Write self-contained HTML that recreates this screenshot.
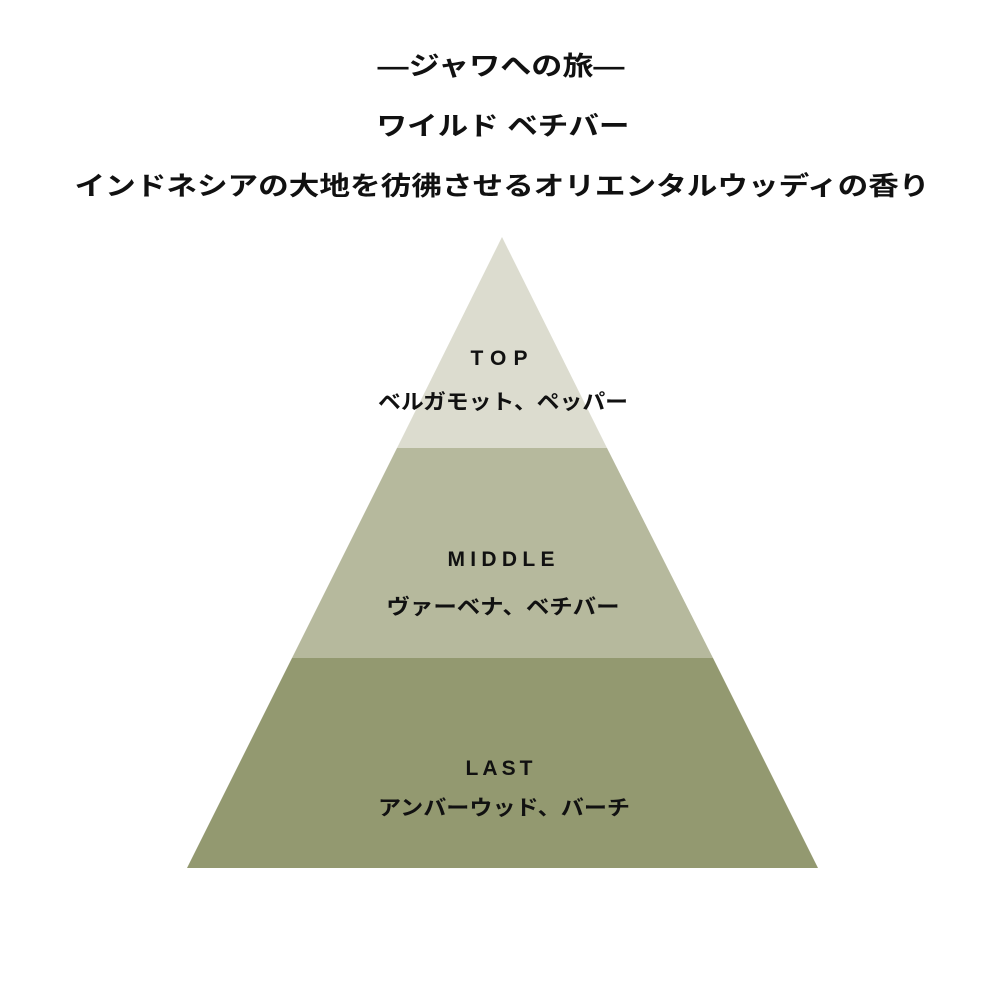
<!DOCTYPE html>
<html><head><meta charset="utf-8"><style>
body{margin:0;background:#fff}
text{font-family:"Liberation Sans","Noto Sans CJK JP",sans-serif;fill:#111;text-anchor:middle}
</style></head><body>
<svg width="1000" height="1000" viewBox="0 0 1000 1000" xmlns="http://www.w3.org/2000/svg">
<polygon points="502,237 607,448 397,448" fill="#dcdccf"/>
<polygon points="397,448 607,448 713,658 292,658" fill="#b6b99d"/>
<polygon points="292,658 713,658 818,868 187,868" fill="#939970"/>
<g font-weight="bold" font-size="26">
<text x="501" y="75" textLength="247" lengthAdjust="spacingAndGlyphs">—ジャワへの旅—</text>
<text x="503" y="135" textLength="253" lengthAdjust="spacingAndGlyphs">ワイルド ベチバー</text>
<text x="502" y="195" textLength="855" lengthAdjust="spacingAndGlyphs">インドネシアの大地を彷彿させるオリエンタルウッディの香り</text>
</g>
<g font-size="21" font-weight="bold">
<text x="499" y="365" textLength="57" lengthAdjust="spacing">TOP</text>
<text x="503" y="409" textLength="250" lengthAdjust="spacingAndGlyphs">ベルガモット、ペッパー</text>
<text x="501" y="566" textLength="107" lengthAdjust="spacing">MIDDLE</text>
<text x="503" y="614" textLength="233" lengthAdjust="spacingAndGlyphs">ヴァーベナ、ベチバー</text>
<text x="499" y="775" textLength="67" lengthAdjust="spacing">LAST</text>
<text x="504" y="815" textLength="252" lengthAdjust="spacingAndGlyphs">アンバーウッド、バーチ</text>
</g>
</svg>
</body></html>
